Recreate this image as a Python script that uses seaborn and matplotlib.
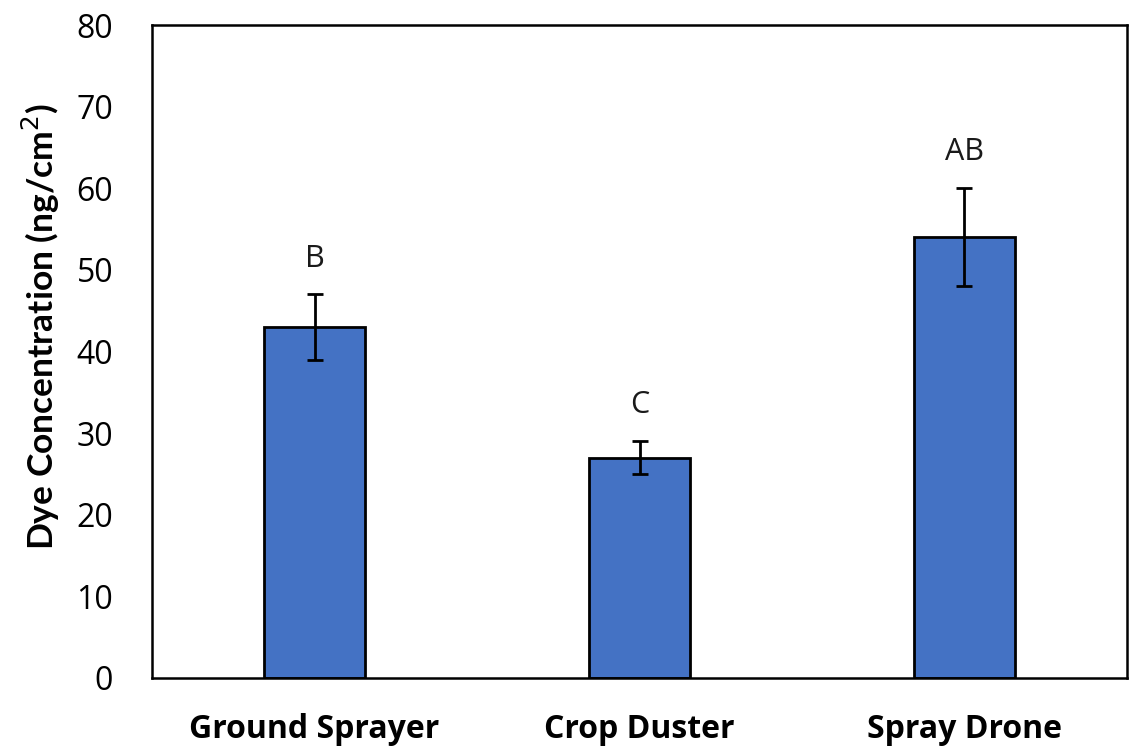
import matplotlib
matplotlib.use("Agg")
import matplotlib.pyplot as plt
import seaborn as sns
import pandas as pd

methods = ["Ground Sprayer", "Crop Duster", "Spray Drone"]
concentration = [43, 27, 54]
std_error = [4, 2, 6]
letters = ["B", "C", "AB"]

sns.set_theme(style="white")
plt.rcParams["font.family"] = ["Open Sans", "DejaVu Sans"]
plt.rcParams["text.color"] = "black"

df = pd.DataFrame({"method": methods, "conc": concentration})

fig = plt.figure(figsize=(11.37, 7.49), dpi=100)
ax = fig.add_axes([0.1337, 0.0948, 0.8575, 0.8718])

sns.barplot(data=df, x="method", y="conc", color="#4472C4", saturation=1,
            width=0.31, edgecolor="black", linewidth=2, ax=ax, errorbar=None)

xs = range(len(methods))
ax.errorbar(list(xs), concentration, yerr=std_error, fmt="none", ecolor="black",
            elinewidth=2, capsize=6, capthick=2, zorder=5)

for x, v, e, lab in zip(xs, concentration, std_error, letters):
    ax.annotate(lab, (x, v + e), xytext=(0, 15), textcoords="offset points",
                ha="center", va="bottom", fontsize=22, color="#1a1a1a")

ax.set_ylim(0, 80)
ax.set_yticks(range(0, 81, 10))
ax.set_xlim(-0.5, 2.5)
ax.set_xlabel("")
ax.set_ylabel("Dye Concentration (ng/cm$^2$)", fontsize=25.5, fontweight="bold",
              family=["Lato", "DejaVu Sans"], color="black")
ax.yaxis.set_label_coords(-0.092, 0.5375)
ax.tick_params(axis="y", labelsize=23, labelcolor="black", length=0, pad=28)
ax.tick_params(axis="x", labelsize=23, labelcolor="black", length=0, pad=25)
for t in ax.get_xticklabels():
    t.set_fontweight("bold")
for sp in ax.spines.values():
    sp.set_visible(True)
    sp.set_color("black")
    sp.set_linewidth(1.8)

fig.savefig("out.png", dpi=100)
